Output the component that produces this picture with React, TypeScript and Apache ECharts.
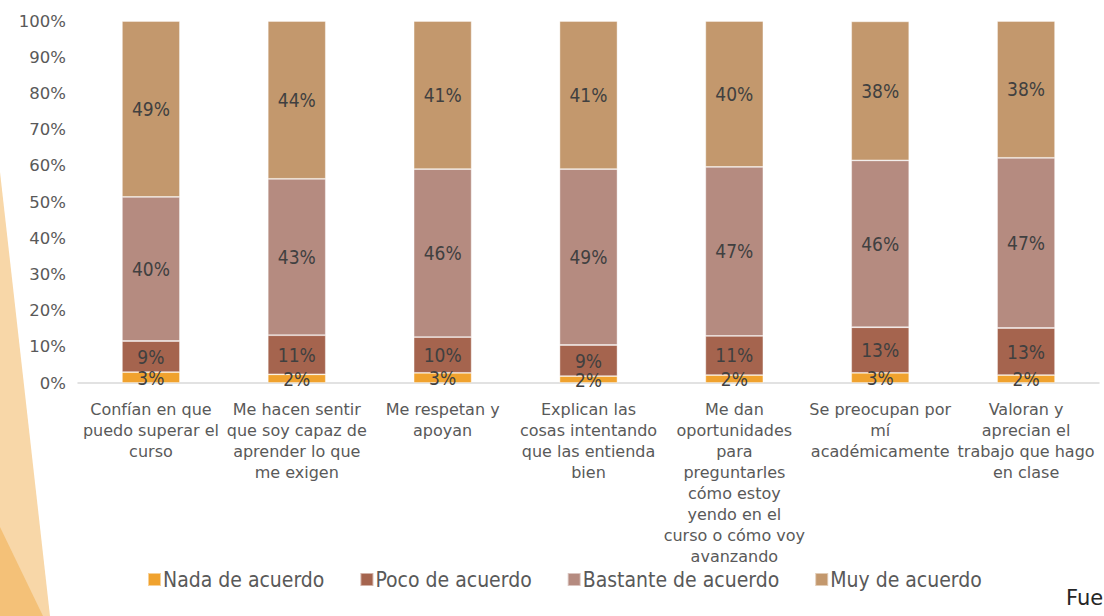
import React, { useEffect, useRef } from "react";
import * as echarts from "echarts";

const categories = [
  "Confían en que\npuedo superar el\ncurso",
  "Me hacen sentir\nque soy capaz de\naprender lo que\nme exigen",
  "Me respetan y\napoyan",
  "Explican las\ncosas intentando\nque las entienda\nbien",
  "Me dan\noportunidades\npara\npreguntarles\ncómo estoy\nyendo en el\ncurso o cómo voy\navanzando",
  "Se preocupan por\nmí\nacadémicamente",
  "Valoran y\naprecian el\ntrabajo que hago\nen clase",
];

const seriesNames = ["Nada de acuerdo", "Poco de acuerdo", "Bastante de acuerdo", "Muy de acuerdo"];
const nada = [3.0, 2.4, 2.8, 1.9, 2.2, 2.8, 2.2];
const poco = [8.6, 10.8, 9.9, 8.6, 10.8, 12.6, 13.0];
const bastante = [39.8, 43.2, 46.4, 48.6, 46.7, 46.1, 47.0];
const muy = [48.6, 43.6, 40.9, 40.9, 40.3, 38.4, 37.8];
const yTicks = [0, 10, 20, 30, 40, 50, 60, 70, 80, 90, 100];
const footnote = "Fuente: elaboración propia";

const colors = ["#F0A22E", "#A5644E", "#B58B80", "#C3986D"];

export default function App() {
  const ref = useRef<HTMLDivElement>(null);
  useEffect(() => {
    if (!ref.current) return;
    const chart = echarts.init(ref.current, null, { renderer: "svg" });
    const values = [nada, poco, bastante, muy];
    const labelFont = "'DejaVu Sans Condensed', 'Liberation Sans Narrow', sans-serif";
    chart.setOption({
      animation: false,
      backgroundColor: "#ffffff",
      color: colors,
      grid: { left: 78, right: 5, top: 21, bottom: 233, containLabel: false },
      legend: {
        data: seriesNames,
        left: 142,
        top: 564,
        itemWidth: 13,
        itemHeight: 13,
        itemGap: 35,
        icon: "rect",
        textStyle: { fontFamily: labelFont, fontSize: 21, color: "#595959", padding: [0, 0, 0, -3] },
      },
      xAxis: {
        type: "category",
        data: categories,
        axisTick: { show: false },
        axisLine: { lineStyle: { color: "#D9D9D9", width: 1.5 } },
        axisLabel: {
          interval: 0,
          margin: 16,
          fontFamily: "'DejaVu Sans', sans-serif",
          fontSize: 16,
          lineHeight: 21,
          color: "#595959",
        },
      },
      yAxis: {
        type: "value",
        min: yTicks[0],
        max: yTicks[yTicks.length - 1],
        interval: 10,
        splitLine: { show: false },
        axisLine: { show: false },
        axisTick: { show: false },
        axisLabel: {
          formatter: "{value}%",
          margin: 12,
          fontFamily: "'DejaVu Sans', sans-serif",
          fontSize: 16.5,
          color: "#595959",
        },
      },
      series: seriesNames.map((name, i) => ({
        name,
        type: "bar",
        stack: "total",
        barWidth: 58,
        data: values[i],
        itemStyle: { color: colors[i], borderColor: "rgba(255,255,255,0.5)", borderWidth: 0.8 },
        label: {
          show: true,
          position: "inside",
          formatter: (p: any) => Math.round(p.value) + "%",
          fontFamily: labelFont,
          fontSize: 19,
          color: "#404040",
        },
      })),
      graphic: [
        {
          type: "polygon",
          z: -10,
          shape: { points: [[0, 172], [50, 616], [0, 616]] },
          style: { fill: "#F8D7A8" },
        },
        {
          type: "polygon",
          z: -9,
          shape: { points: [[0, 527], [43, 616], [0, 616]] },
          style: { fill: "#F4C178" },
        },
        {
          type: "text",
          left: 1066,
          top: 587,
          style: {
            text: footnote,
            fontFamily: "'DejaVu Sans', sans-serif",
            fontSize: 21,
            fill: "#262626",
          },
        },
      ],
    });
    return () => chart.dispose();
  }, []);
  return (
    <div
      ref={ref}
      style={{ position: "fixed", left: 0, top: 0, width: 1104, height: 616, overflow: "hidden" }}
    />
  );
}
